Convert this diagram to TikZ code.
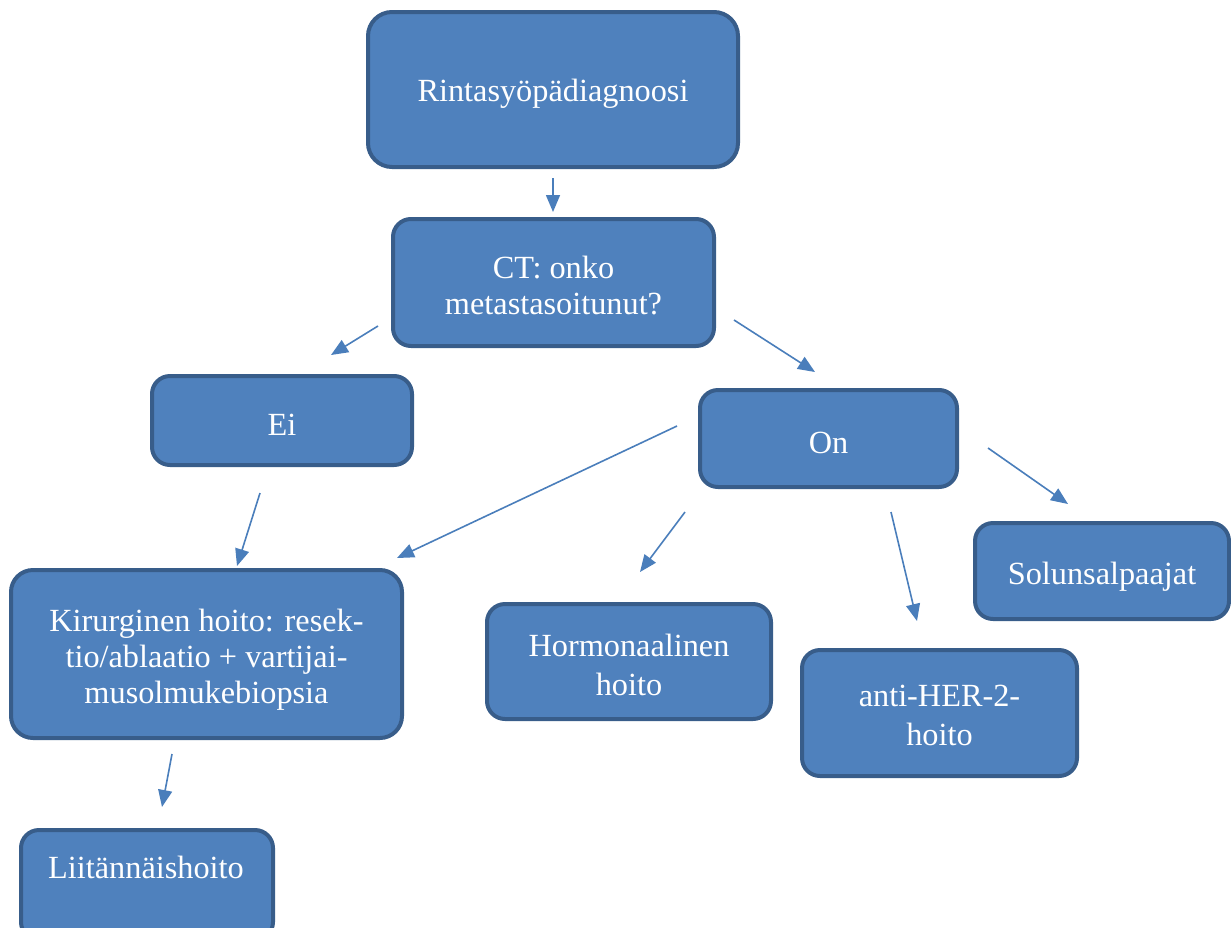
\documentclass[tikz,border=0pt]{standalone}
\usepackage{fontspec}
\setmainfont{Liberation Serif}
\usetikzlibrary{arrows.meta}
\definecolor{boxfill}{HTML}{4F81BD}
\definecolor{boxline}{HTML}{385D8A}
\definecolor{arrowc}{HTML}{4A7EBB}
\newcommand{\mlines}[3]{\raisebox{-#1pt}[\height][\depth]{\renewcommand{\arraystretch}{#2}\begin{tabular}{@{}c@{}}#3\end{tabular}}}
\tikzset{
  box/.style={draw=boxline, fill=boxfill, line width=4pt, rounded corners=18pt,
    text=white, align=center, inner sep=0pt,
    font=\fontsize{32.3}{38}\selectfont},
  oneline/.style={text height=30pt},
  conn/.style={draw=arrowc, line width=1.6pt, -{Triangle[length=17pt,width=14pt]}}
}
\begin{document}
\begin{tikzpicture}[x=1pt,y=-1pt]
\useasboundingbox (0,0) rectangle (1231,927);
\clip (0,0) rectangle (1231,927);
\node[box, oneline, rounded corners=24pt, minimum width=370pt, minimum height=155pt] (diag) at (553,89.5) {Rintasyöpädiagnoosi};
\node[box, minimum width=321pt, minimum height=127pt] (ct) at (553.5,282.5) {\mlines{6.5}{0.95}{CT: onko\\metastasoitunut?}};
\node[box, oneline, minimum width=260pt, minimum height=89pt] (ei) at (282,420.5) {Ei};
\node[box, oneline, minimum width=257pt, minimum height=97pt] (on) at (828.5,438.5) {On};
\node[box, oneline, text height=33pt, minimum width=254pt, minimum height=96pt] (solu) at (1102,571) {Solunsalpaajat};
\node[box, rounded corners=22pt, minimum width=391pt, minimum height=168pt] (kir) at (206.5,654) {\mlines{6.5}{0.95}{Kirurginen hoito: resek-\\tio/ablaatio + vartijai-\\musolmukebiopsia}};
\node[box, minimum width=284pt, minimum height=115pt] (horm) at (629,661.5) {\mlines{7}{1.02}{Hormonaalinen\\hoito}};
\node[box, minimum width=275pt, minimum height=126pt] (her) at (939.5,713) {\mlines{5}{1.02}{anti-HER-2-\\hoito}};
\node[box, minimum width=252pt, minimum height=110pt] (liit) at (147,885) {};
\node[text=white, font=\fontsize{32.3}{38}\selectfont] (liitt) at (146,867) {Liitännäishoito};

\coordinate (a1s) at (553,178); \coordinate (a1e) at (553,212);
\coordinate (a2s) at (378,326); \coordinate (a2e) at (331,355);
\coordinate (a3s) at (734,320); \coordinate (a3e) at (815,372);
\coordinate (a4s) at (677,426); \coordinate (a4e) at (397,558);
\coordinate (a5s) at (685,512); \coordinate (a5e) at (640,572);
\coordinate (a6s) at (891,512); \coordinate (a6e) at (917,621);
\coordinate (a7s) at (988,448); \coordinate (a7e) at (1068,504);
\coordinate (a8s) at (260,493); \coordinate (a8e) at (237,566);
\coordinate (a9s) at (172,754); \coordinate (a9e) at (162,807);

\draw[conn] (a1s) -- (a1e);
\draw[conn] (a2s) -- (a2e);
\draw[conn] (a3s) -- (a3e);
\draw[conn] (a4s) -- (a4e);
\draw[conn] (a5s) -- (a5e);
\draw[conn] (a6s) -- (a6e);
\draw[conn] (a7s) -- (a7e);
\draw[conn] (a8s) -- (a8e);
\draw[conn] (a9s) -- (a9e);
\end{tikzpicture}
\end{document}
